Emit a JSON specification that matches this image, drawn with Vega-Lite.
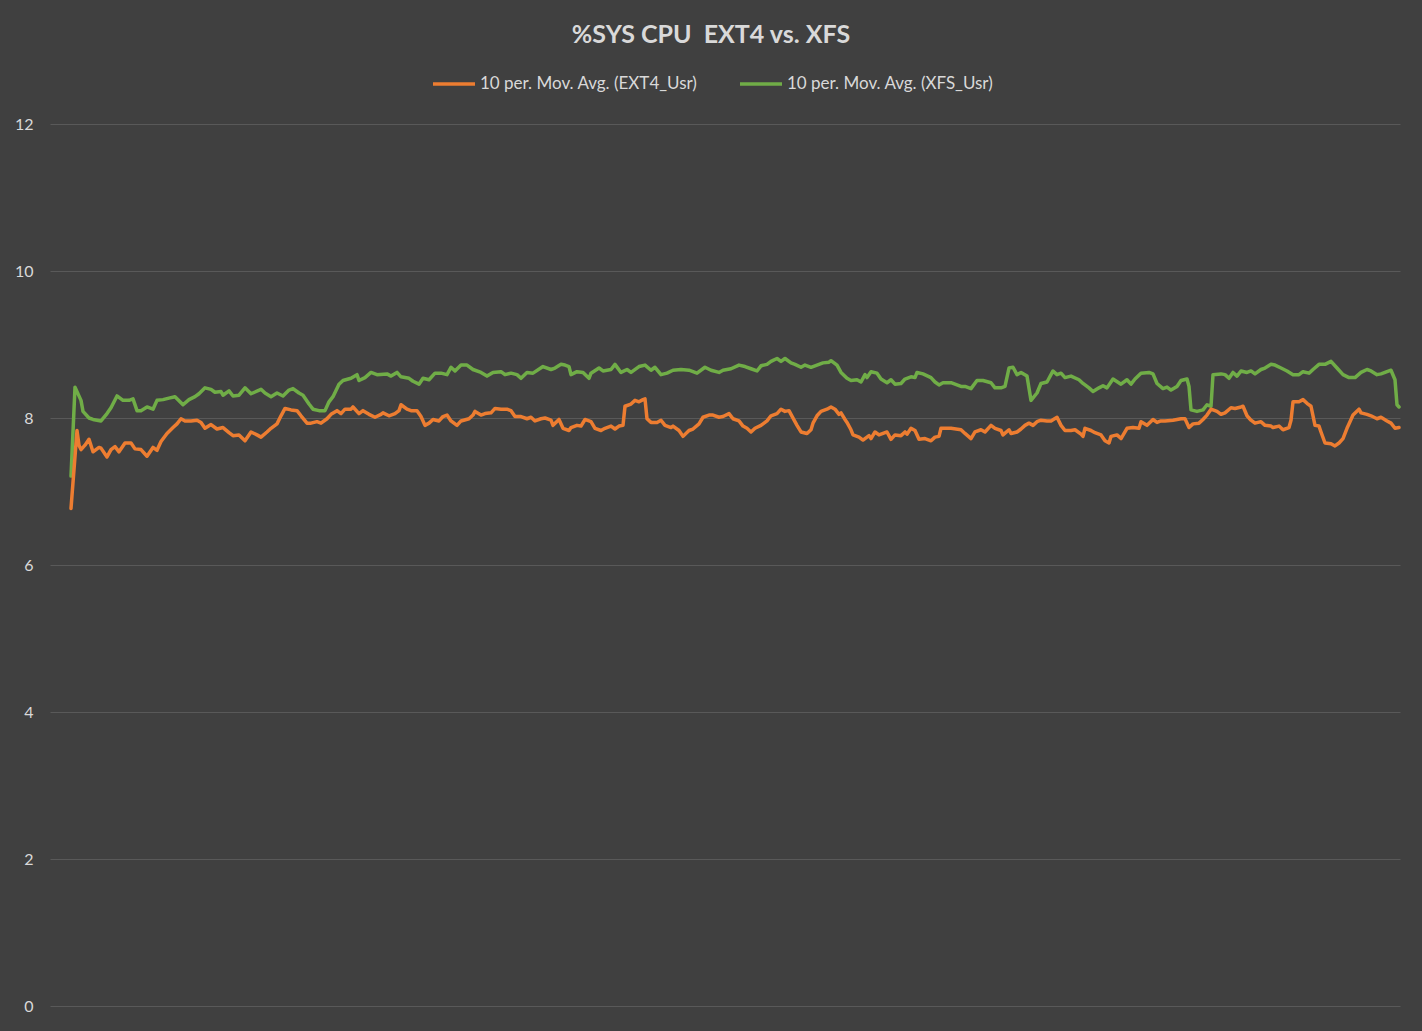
{
  "$schema": "https://vega.github.io/schema/vega-lite/v6.json",
  "width": 1350,
  "height": 882,
  "autosize": {"type": "none"},
  "padding": {"left": 50, "top": 124, "right": 22, "bottom": 25},
  "background": "#404040",
  "title": {
    "text": "%SYS CPU\u00a0 EXT4 vs. XFS",
    "color": "#d9d9d9",
    "font": "Lato",
    "fontSize": 25,
    "fontWeight": "bold",
    "anchor": "middle",
    "frame": "group",
    "dx": -14,
    "baseline": "alphabetic",
    "offset": -7
  },
  "config": {
    "view": {"stroke": null},
    "axis": {"labelFont": "Lato"},
    "legend": {"labelFont": "Lato"}
  },
  "data": {
    "values": [
      {"t": 0, "s": "XFS_Usr", "v": 7.21}, {"t": 2, "s": "XFS_Usr", "v": 8.42}, {"t": 5, "s": "XFS_Usr", "v": 8.24},
      {"t": 6, "s": "XFS_Usr", "v": 8.09}, {"t": 9, "s": "XFS_Usr", "v": 8.0}, {"t": 11, "s": "XFS_Usr", "v": 7.98},
      {"t": 15, "s": "XFS_Usr", "v": 7.96}, {"t": 18, "s": "XFS_Usr", "v": 8.06}, {"t": 20, "s": "XFS_Usr", "v": 8.14},
      {"t": 23, "s": "XFS_Usr", "v": 8.3}, {"t": 26, "s": "XFS_Usr", "v": 8.24}, {"t": 29, "s": "XFS_Usr", "v": 8.24},
      {"t": 31, "s": "XFS_Usr", "v": 8.26}, {"t": 33, "s": "XFS_Usr", "v": 8.1}, {"t": 35, "s": "XFS_Usr", "v": 8.1},
      {"t": 38, "s": "XFS_Usr", "v": 8.15}, {"t": 41, "s": "XFS_Usr", "v": 8.12}, {"t": 43, "s": "XFS_Usr", "v": 8.24},
      {"t": 46, "s": "XFS_Usr", "v": 8.25}, {"t": 49, "s": "XFS_Usr", "v": 8.27}, {"t": 52, "s": "XFS_Usr", "v": 8.29},
      {"t": 56, "s": "XFS_Usr", "v": 8.18}, {"t": 59, "s": "XFS_Usr", "v": 8.25}, {"t": 62, "s": "XFS_Usr", "v": 8.29},
      {"t": 64, "s": "XFS_Usr", "v": 8.33}, {"t": 67, "s": "XFS_Usr", "v": 8.41}, {"t": 70, "s": "XFS_Usr", "v": 8.39},
      {"t": 72, "s": "XFS_Usr", "v": 8.35}, {"t": 75, "s": "XFS_Usr", "v": 8.36}, {"t": 76, "s": "XFS_Usr", "v": 8.31},
      {"t": 79, "s": "XFS_Usr", "v": 8.37}, {"t": 81, "s": "XFS_Usr", "v": 8.3}, {"t": 84, "s": "XFS_Usr", "v": 8.31},
      {"t": 87, "s": "XFS_Usr", "v": 8.41}, {"t": 90, "s": "XFS_Usr", "v": 8.33}, {"t": 95, "s": "XFS_Usr", "v": 8.39},
      {"t": 97, "s": "XFS_Usr", "v": 8.34}, {"t": 100, "s": "XFS_Usr", "v": 8.29}, {"t": 103, "s": "XFS_Usr", "v": 8.34},
      {"t": 106, "s": "XFS_Usr", "v": 8.3}, {"t": 109, "s": "XFS_Usr", "v": 8.38}, {"t": 111, "s": "XFS_Usr", "v": 8.4},
      {"t": 114, "s": "XFS_Usr", "v": 8.34}, {"t": 116, "s": "XFS_Usr", "v": 8.31}, {"t": 119, "s": "XFS_Usr", "v": 8.19},
      {"t": 121, "s": "XFS_Usr", "v": 8.12}, {"t": 124, "s": "XFS_Usr", "v": 8.1}, {"t": 127, "s": "XFS_Usr", "v": 8.1},
      {"t": 129, "s": "XFS_Usr", "v": 8.22}, {"t": 131, "s": "XFS_Usr", "v": 8.29}, {"t": 134, "s": "XFS_Usr", "v": 8.46},
      {"t": 136, "s": "XFS_Usr", "v": 8.51}, {"t": 140, "s": "XFS_Usr", "v": 8.54}, {"t": 143, "s": "XFS_Usr", "v": 8.59},
      {"t": 144, "s": "XFS_Usr", "v": 8.51}, {"t": 147, "s": "XFS_Usr", "v": 8.55}, {"t": 150, "s": "XFS_Usr", "v": 8.62},
      {"t": 153, "s": "XFS_Usr", "v": 8.59}, {"t": 158, "s": "XFS_Usr", "v": 8.6}, {"t": 160, "s": "XFS_Usr", "v": 8.57},
      {"t": 163, "s": "XFS_Usr", "v": 8.62}, {"t": 165, "s": "XFS_Usr", "v": 8.56}, {"t": 169, "s": "XFS_Usr", "v": 8.54},
      {"t": 171, "s": "XFS_Usr", "v": 8.5}, {"t": 174, "s": "XFS_Usr", "v": 8.46}, {"t": 176, "s": "XFS_Usr", "v": 8.54},
      {"t": 179, "s": "XFS_Usr", "v": 8.52}, {"t": 182, "s": "XFS_Usr", "v": 8.61}, {"t": 185, "s": "XFS_Usr", "v": 8.61},
      {"t": 188, "s": "XFS_Usr", "v": 8.59}, {"t": 190, "s": "XFS_Usr", "v": 8.69}, {"t": 192, "s": "XFS_Usr", "v": 8.64},
      {"t": 195, "s": "XFS_Usr", "v": 8.72}, {"t": 198, "s": "XFS_Usr", "v": 8.72}, {"t": 201, "s": "XFS_Usr", "v": 8.66},
      {"t": 205, "s": "XFS_Usr", "v": 8.62}, {"t": 208, "s": "XFS_Usr", "v": 8.57}, {"t": 211, "s": "XFS_Usr", "v": 8.62},
      {"t": 215, "s": "XFS_Usr", "v": 8.63}, {"t": 217, "s": "XFS_Usr", "v": 8.59}, {"t": 220, "s": "XFS_Usr", "v": 8.61},
      {"t": 223, "s": "XFS_Usr", "v": 8.59}, {"t": 225, "s": "XFS_Usr", "v": 8.54}, {"t": 228, "s": "XFS_Usr", "v": 8.62},
      {"t": 231, "s": "XFS_Usr", "v": 8.61}, {"t": 236, "s": "XFS_Usr", "v": 8.7}, {"t": 240, "s": "XFS_Usr", "v": 8.66},
      {"t": 242, "s": "XFS_Usr", "v": 8.68}, {"t": 245, "s": "XFS_Usr", "v": 8.73}, {"t": 247, "s": "XFS_Usr", "v": 8.72},
      {"t": 249, "s": "XFS_Usr", "v": 8.7}, {"t": 250, "s": "XFS_Usr", "v": 8.59}, {"t": 253, "s": "XFS_Usr", "v": 8.63},
      {"t": 256, "s": "XFS_Usr", "v": 8.62}, {"t": 259, "s": "XFS_Usr", "v": 8.54}, {"t": 260, "s": "XFS_Usr", "v": 8.61},
      {"t": 264, "s": "XFS_Usr", "v": 8.68}, {"t": 266, "s": "XFS_Usr", "v": 8.64}, {"t": 270, "s": "XFS_Usr", "v": 8.66},
      {"t": 272, "s": "XFS_Usr", "v": 8.73}, {"t": 275, "s": "XFS_Usr", "v": 8.62}, {"t": 278, "s": "XFS_Usr", "v": 8.66},
      {"t": 280, "s": "XFS_Usr", "v": 8.62}, {"t": 284, "s": "XFS_Usr", "v": 8.7}, {"t": 287, "s": "XFS_Usr", "v": 8.72},
      {"t": 290, "s": "XFS_Usr", "v": 8.65}, {"t": 292, "s": "XFS_Usr", "v": 8.69}, {"t": 295, "s": "XFS_Usr", "v": 8.59},
      {"t": 298, "s": "XFS_Usr", "v": 8.61}, {"t": 301, "s": "XFS_Usr", "v": 8.65}, {"t": 305, "s": "XFS_Usr", "v": 8.66},
      {"t": 309, "s": "XFS_Usr", "v": 8.65}, {"t": 313, "s": "XFS_Usr", "v": 8.61}, {"t": 317, "s": "XFS_Usr", "v": 8.69},
      {"t": 320, "s": "XFS_Usr", "v": 8.65}, {"t": 324, "s": "XFS_Usr", "v": 8.62}, {"t": 326, "s": "XFS_Usr", "v": 8.65},
      {"t": 330, "s": "XFS_Usr", "v": 8.67}, {"t": 334, "s": "XFS_Usr", "v": 8.72}, {"t": 337, "s": "XFS_Usr", "v": 8.7},
      {"t": 340, "s": "XFS_Usr", "v": 8.67}, {"t": 343, "s": "XFS_Usr", "v": 8.64}, {"t": 345, "s": "XFS_Usr", "v": 8.71},
      {"t": 348, "s": "XFS_Usr", "v": 8.73}, {"t": 350, "s": "XFS_Usr", "v": 8.77}, {"t": 353, "s": "XFS_Usr", "v": 8.81},
      {"t": 355, "s": "XFS_Usr", "v": 8.77}, {"t": 357, "s": "XFS_Usr", "v": 8.81}, {"t": 360, "s": "XFS_Usr", "v": 8.75},
      {"t": 362, "s": "XFS_Usr", "v": 8.73}, {"t": 365, "s": "XFS_Usr", "v": 8.69}, {"t": 367, "s": "XFS_Usr", "v": 8.72},
      {"t": 370, "s": "XFS_Usr", "v": 8.69}, {"t": 373, "s": "XFS_Usr", "v": 8.72}, {"t": 376, "s": "XFS_Usr", "v": 8.75},
      {"t": 379, "s": "XFS_Usr", "v": 8.76}, {"t": 380, "s": "XFS_Usr", "v": 8.78}, {"t": 383, "s": "XFS_Usr", "v": 8.72},
      {"t": 385, "s": "XFS_Usr", "v": 8.62}, {"t": 388, "s": "XFS_Usr", "v": 8.54}, {"t": 390, "s": "XFS_Usr", "v": 8.51},
      {"t": 393, "s": "XFS_Usr", "v": 8.52}, {"t": 395, "s": "XFS_Usr", "v": 8.49}, {"t": 397, "s": "XFS_Usr", "v": 8.59},
      {"t": 398, "s": "XFS_Usr", "v": 8.55}, {"t": 400, "s": "XFS_Usr", "v": 8.63}, {"t": 403, "s": "XFS_Usr", "v": 8.61},
      {"t": 405, "s": "XFS_Usr", "v": 8.53}, {"t": 408, "s": "XFS_Usr", "v": 8.48}, {"t": 410, "s": "XFS_Usr", "v": 8.52},
      {"t": 412, "s": "XFS_Usr", "v": 8.46}, {"t": 415, "s": "XFS_Usr", "v": 8.47}, {"t": 417, "s": "XFS_Usr", "v": 8.53},
      {"t": 420, "s": "XFS_Usr", "v": 8.56}, {"t": 422, "s": "XFS_Usr", "v": 8.55}, {"t": 423, "s": "XFS_Usr", "v": 8.62},
      {"t": 426, "s": "XFS_Usr", "v": 8.6}, {"t": 430, "s": "XFS_Usr", "v": 8.55}, {"t": 432, "s": "XFS_Usr", "v": 8.49},
      {"t": 434, "s": "XFS_Usr", "v": 8.45}, {"t": 436, "s": "XFS_Usr", "v": 8.48}, {"t": 440, "s": "XFS_Usr", "v": 8.48},
      {"t": 442, "s": "XFS_Usr", "v": 8.46}, {"t": 445, "s": "XFS_Usr", "v": 8.43}, {"t": 447, "s": "XFS_Usr", "v": 8.43},
      {"t": 450, "s": "XFS_Usr", "v": 8.4}, {"t": 453, "s": "XFS_Usr", "v": 8.51}, {"t": 456, "s": "XFS_Usr", "v": 8.51},
      {"t": 460, "s": "XFS_Usr", "v": 8.48}, {"t": 462, "s": "XFS_Usr", "v": 8.41}, {"t": 465, "s": "XFS_Usr", "v": 8.41},
      {"t": 467, "s": "XFS_Usr", "v": 8.43}, {"t": 469, "s": "XFS_Usr", "v": 8.68}, {"t": 471, "s": "XFS_Usr", "v": 8.69},
      {"t": 473, "s": "XFS_Usr", "v": 8.59}, {"t": 475, "s": "XFS_Usr", "v": 8.62}, {"t": 478, "s": "XFS_Usr", "v": 8.57},
      {"t": 480, "s": "XFS_Usr", "v": 8.24}, {"t": 483, "s": "XFS_Usr", "v": 8.34}, {"t": 485, "s": "XFS_Usr", "v": 8.47},
      {"t": 488, "s": "XFS_Usr", "v": 8.49}, {"t": 491, "s": "XFS_Usr", "v": 8.64}, {"t": 493, "s": "XFS_Usr", "v": 8.59},
      {"t": 495, "s": "XFS_Usr", "v": 8.61}, {"t": 497, "s": "XFS_Usr", "v": 8.55}, {"t": 500, "s": "XFS_Usr", "v": 8.57},
      {"t": 504, "s": "XFS_Usr", "v": 8.52}, {"t": 506, "s": "XFS_Usr", "v": 8.47}, {"t": 509, "s": "XFS_Usr", "v": 8.41},
      {"t": 511, "s": "XFS_Usr", "v": 8.36}, {"t": 514, "s": "XFS_Usr", "v": 8.41}, {"t": 516, "s": "XFS_Usr", "v": 8.44},
      {"t": 518, "s": "XFS_Usr", "v": 8.41}, {"t": 521, "s": "XFS_Usr", "v": 8.53}, {"t": 525, "s": "XFS_Usr", "v": 8.46},
      {"t": 528, "s": "XFS_Usr", "v": 8.52}, {"t": 530, "s": "XFS_Usr", "v": 8.46}, {"t": 532, "s": "XFS_Usr", "v": 8.53},
      {"t": 535, "s": "XFS_Usr", "v": 8.61}, {"t": 539, "s": "XFS_Usr", "v": 8.62}, {"t": 541, "s": "XFS_Usr", "v": 8.6},
      {"t": 543, "s": "XFS_Usr", "v": 8.47}, {"t": 546, "s": "XFS_Usr", "v": 8.4}, {"t": 548, "s": "XFS_Usr", "v": 8.42},
      {"t": 550, "s": "XFS_Usr", "v": 8.38}, {"t": 553, "s": "XFS_Usr", "v": 8.43}, {"t": 555, "s": "XFS_Usr", "v": 8.51},
      {"t": 558, "s": "XFS_Usr", "v": 8.53}, {"t": 559, "s": "XFS_Usr", "v": 8.43}, {"t": 560, "s": "XFS_Usr", "v": 8.11},
      {"t": 563, "s": "XFS_Usr", "v": 8.09}, {"t": 566, "s": "XFS_Usr", "v": 8.11}, {"t": 568, "s": "XFS_Usr", "v": 8.18},
      {"t": 570, "s": "XFS_Usr", "v": 8.16}, {"t": 571, "s": "XFS_Usr", "v": 8.59}, {"t": 575, "s": "XFS_Usr", "v": 8.6},
      {"t": 577, "s": "XFS_Usr", "v": 8.59}, {"t": 579, "s": "XFS_Usr", "v": 8.54}, {"t": 581, "s": "XFS_Usr", "v": 8.62},
      {"t": 583, "s": "XFS_Usr", "v": 8.57}, {"t": 585, "s": "XFS_Usr", "v": 8.64}, {"t": 588, "s": "XFS_Usr", "v": 8.62},
      {"t": 590, "s": "XFS_Usr", "v": 8.64}, {"t": 592, "s": "XFS_Usr", "v": 8.6}, {"t": 595, "s": "XFS_Usr", "v": 8.66},
      {"t": 597, "s": "XFS_Usr", "v": 8.68}, {"t": 600, "s": "XFS_Usr", "v": 8.73}, {"t": 602, "s": "XFS_Usr", "v": 8.72},
      {"t": 605, "s": "XFS_Usr", "v": 8.68}, {"t": 608, "s": "XFS_Usr", "v": 8.64}, {"t": 611, "s": "XFS_Usr", "v": 8.59},
      {"t": 614, "s": "XFS_Usr", "v": 8.59}, {"t": 616, "s": "XFS_Usr", "v": 8.63}, {"t": 619, "s": "XFS_Usr", "v": 8.61},
      {"t": 621, "s": "XFS_Usr", "v": 8.66}, {"t": 624, "s": "XFS_Usr", "v": 8.73}, {"t": 627, "s": "XFS_Usr", "v": 8.73},
      {"t": 630, "s": "XFS_Usr", "v": 8.77}, {"t": 633, "s": "XFS_Usr", "v": 8.68}, {"t": 636, "s": "XFS_Usr", "v": 8.59},
      {"t": 639, "s": "XFS_Usr", "v": 8.55}, {"t": 642, "s": "XFS_Usr", "v": 8.55}, {"t": 645, "s": "XFS_Usr", "v": 8.62},
      {"t": 648, "s": "XFS_Usr", "v": 8.66}, {"t": 650, "s": "XFS_Usr", "v": 8.64}, {"t": 653, "s": "XFS_Usr", "v": 8.59},
      {"t": 655, "s": "XFS_Usr", "v": 8.6}, {"t": 657, "s": "XFS_Usr", "v": 8.62}, {"t": 660, "s": "XFS_Usr", "v": 8.65},
      {"t": 662, "s": "XFS_Usr", "v": 8.52}, {"t": 663, "s": "XFS_Usr", "v": 8.18}, {"t": 664, "s": "XFS_Usr", "v": 8.15},

      {"t": 0, "s": "EXT4_Usr", "v": 6.77}, {"t": 3, "s": "EXT4_Usr", "v": 7.83}, {"t": 4, "s": "EXT4_Usr", "v": 7.63},
      {"t": 5, "s": "EXT4_Usr", "v": 7.57}, {"t": 7, "s": "EXT4_Usr", "v": 7.63}, {"t": 9, "s": "EXT4_Usr", "v": 7.71},
      {"t": 11, "s": "EXT4_Usr", "v": 7.54}, {"t": 14, "s": "EXT4_Usr", "v": 7.6}, {"t": 15, "s": "EXT4_Usr", "v": 7.59},
      {"t": 18, "s": "EXT4_Usr", "v": 7.47}, {"t": 20, "s": "EXT4_Usr", "v": 7.57}, {"t": 22, "s": "EXT4_Usr", "v": 7.61},
      {"t": 24, "s": "EXT4_Usr", "v": 7.54}, {"t": 27, "s": "EXT4_Usr", "v": 7.66}, {"t": 30, "s": "EXT4_Usr", "v": 7.66},
      {"t": 32, "s": "EXT4_Usr", "v": 7.58}, {"t": 35, "s": "EXT4_Usr", "v": 7.57}, {"t": 38, "s": "EXT4_Usr", "v": 7.48},
      {"t": 41, "s": "EXT4_Usr", "v": 7.6}, {"t": 43, "s": "EXT4_Usr", "v": 7.56}, {"t": 45, "s": "EXT4_Usr", "v": 7.68},
      {"t": 48, "s": "EXT4_Usr", "v": 7.79}, {"t": 51, "s": "EXT4_Usr", "v": 7.87}, {"t": 53, "s": "EXT4_Usr", "v": 7.92},
      {"t": 55, "s": "EXT4_Usr", "v": 7.99}, {"t": 57, "s": "EXT4_Usr", "v": 7.96}, {"t": 60, "s": "EXT4_Usr", "v": 7.96},
      {"t": 63, "s": "EXT4_Usr", "v": 7.97}, {"t": 65, "s": "EXT4_Usr", "v": 7.94}, {"t": 67, "s": "EXT4_Usr", "v": 7.86},
      {"t": 70, "s": "EXT4_Usr", "v": 7.91}, {"t": 73, "s": "EXT4_Usr", "v": 7.85}, {"t": 76, "s": "EXT4_Usr", "v": 7.87},
      {"t": 79, "s": "EXT4_Usr", "v": 7.8}, {"t": 81, "s": "EXT4_Usr", "v": 7.76}, {"t": 84, "s": "EXT4_Usr", "v": 7.77},
      {"t": 87, "s": "EXT4_Usr", "v": 7.69}, {"t": 90, "s": "EXT4_Usr", "v": 7.81}, {"t": 93, "s": "EXT4_Usr", "v": 7.77},
      {"t": 95, "s": "EXT4_Usr", "v": 7.74}, {"t": 98, "s": "EXT4_Usr", "v": 7.81}, {"t": 100, "s": "EXT4_Usr", "v": 7.86},
      {"t": 103, "s": "EXT4_Usr", "v": 7.92}, {"t": 105, "s": "EXT4_Usr", "v": 8.03}, {"t": 107, "s": "EXT4_Usr", "v": 8.13},
      {"t": 110, "s": "EXT4_Usr", "v": 8.11}, {"t": 113, "s": "EXT4_Usr", "v": 8.1}, {"t": 115, "s": "EXT4_Usr", "v": 8.03},
      {"t": 118, "s": "EXT4_Usr", "v": 7.93}, {"t": 120, "s": "EXT4_Usr", "v": 7.93}, {"t": 123, "s": "EXT4_Usr", "v": 7.95},
      {"t": 125, "s": "EXT4_Usr", "v": 7.93}, {"t": 128, "s": "EXT4_Usr", "v": 7.99}, {"t": 130, "s": "EXT4_Usr", "v": 8.05},
      {"t": 133, "s": "EXT4_Usr", "v": 8.1}, {"t": 135, "s": "EXT4_Usr", "v": 8.06}, {"t": 137, "s": "EXT4_Usr", "v": 8.12},
      {"t": 140, "s": "EXT4_Usr", "v": 8.12}, {"t": 141, "s": "EXT4_Usr", "v": 8.15}, {"t": 144, "s": "EXT4_Usr", "v": 8.06},
      {"t": 146, "s": "EXT4_Usr", "v": 8.1}, {"t": 149, "s": "EXT4_Usr", "v": 8.05}, {"t": 152, "s": "EXT4_Usr", "v": 8.01},
      {"t": 155, "s": "EXT4_Usr", "v": 8.05}, {"t": 156, "s": "EXT4_Usr", "v": 8.07}, {"t": 159, "s": "EXT4_Usr", "v": 8.03},
      {"t": 162, "s": "EXT4_Usr", "v": 8.06}, {"t": 164, "s": "EXT4_Usr", "v": 8.1}, {"t": 165, "s": "EXT4_Usr", "v": 8.18},
      {"t": 168, "s": "EXT4_Usr", "v": 8.12}, {"t": 170, "s": "EXT4_Usr", "v": 8.1}, {"t": 173, "s": "EXT4_Usr", "v": 8.1},
      {"t": 175, "s": "EXT4_Usr", "v": 8.02}, {"t": 177, "s": "EXT4_Usr", "v": 7.9}, {"t": 179, "s": "EXT4_Usr", "v": 7.93},
      {"t": 181, "s": "EXT4_Usr", "v": 7.98}, {"t": 184, "s": "EXT4_Usr", "v": 7.96}, {"t": 186, "s": "EXT4_Usr", "v": 8.02},
      {"t": 188, "s": "EXT4_Usr", "v": 8.04}, {"t": 190, "s": "EXT4_Usr", "v": 7.96}, {"t": 193, "s": "EXT4_Usr", "v": 7.9},
      {"t": 195, "s": "EXT4_Usr", "v": 7.96}, {"t": 199, "s": "EXT4_Usr", "v": 7.99}, {"t": 201, "s": "EXT4_Usr", "v": 8.04},
      {"t": 202, "s": "EXT4_Usr", "v": 8.09}, {"t": 205, "s": "EXT4_Usr", "v": 8.04}, {"t": 207, "s": "EXT4_Usr", "v": 8.06},
      {"t": 210, "s": "EXT4_Usr", "v": 8.07}, {"t": 212, "s": "EXT4_Usr", "v": 8.13}, {"t": 215, "s": "EXT4_Usr", "v": 8.12},
      {"t": 218, "s": "EXT4_Usr", "v": 8.12}, {"t": 220, "s": "EXT4_Usr", "v": 8.1}, {"t": 222, "s": "EXT4_Usr", "v": 8.02},
      {"t": 225, "s": "EXT4_Usr", "v": 8.02}, {"t": 228, "s": "EXT4_Usr", "v": 7.99}, {"t": 230, "s": "EXT4_Usr", "v": 8.01},
      {"t": 232, "s": "EXT4_Usr", "v": 7.96}, {"t": 235, "s": "EXT4_Usr", "v": 7.99}, {"t": 237, "s": "EXT4_Usr", "v": 8.0},
      {"t": 240, "s": "EXT4_Usr", "v": 7.97}, {"t": 241, "s": "EXT4_Usr", "v": 7.9}, {"t": 244, "s": "EXT4_Usr", "v": 7.98},
      {"t": 246, "s": "EXT4_Usr", "v": 7.86}, {"t": 249, "s": "EXT4_Usr", "v": 7.83}, {"t": 250, "s": "EXT4_Usr", "v": 7.87},
      {"t": 253, "s": "EXT4_Usr", "v": 7.9}, {"t": 255, "s": "EXT4_Usr", "v": 7.89}, {"t": 257, "s": "EXT4_Usr", "v": 7.98},
      {"t": 260, "s": "EXT4_Usr", "v": 7.95}, {"t": 262, "s": "EXT4_Usr", "v": 7.86}, {"t": 265, "s": "EXT4_Usr", "v": 7.83},
      {"t": 267, "s": "EXT4_Usr", "v": 7.86}, {"t": 270, "s": "EXT4_Usr", "v": 7.89}, {"t": 272, "s": "EXT4_Usr", "v": 7.85},
      {"t": 274, "s": "EXT4_Usr", "v": 7.89}, {"t": 276, "s": "EXT4_Usr", "v": 7.9}, {"t": 277, "s": "EXT4_Usr", "v": 8.16},
      {"t": 280, "s": "EXT4_Usr", "v": 8.19}, {"t": 282, "s": "EXT4_Usr", "v": 8.24}, {"t": 284, "s": "EXT4_Usr", "v": 8.22},
      {"t": 286, "s": "EXT4_Usr", "v": 8.25}, {"t": 287, "s": "EXT4_Usr", "v": 8.26}, {"t": 288, "s": "EXT4_Usr", "v": 7.99},
      {"t": 290, "s": "EXT4_Usr", "v": 7.94}, {"t": 293, "s": "EXT4_Usr", "v": 7.94}, {"t": 295, "s": "EXT4_Usr", "v": 7.97},
      {"t": 297, "s": "EXT4_Usr", "v": 7.9}, {"t": 300, "s": "EXT4_Usr", "v": 7.87}, {"t": 301, "s": "EXT4_Usr", "v": 7.89},
      {"t": 304, "s": "EXT4_Usr", "v": 7.83}, {"t": 306, "s": "EXT4_Usr", "v": 7.75}, {"t": 309, "s": "EXT4_Usr", "v": 7.83},
      {"t": 311, "s": "EXT4_Usr", "v": 7.85}, {"t": 314, "s": "EXT4_Usr", "v": 7.92}, {"t": 316, "s": "EXT4_Usr", "v": 8.01},
      {"t": 319, "s": "EXT4_Usr", "v": 8.04}, {"t": 321, "s": "EXT4_Usr", "v": 8.04}, {"t": 324, "s": "EXT4_Usr", "v": 8.01},
      {"t": 326, "s": "EXT4_Usr", "v": 8.02}, {"t": 329, "s": "EXT4_Usr", "v": 8.06}, {"t": 331, "s": "EXT4_Usr", "v": 7.99},
      {"t": 334, "s": "EXT4_Usr", "v": 7.96}, {"t": 336, "s": "EXT4_Usr", "v": 7.89}, {"t": 338, "s": "EXT4_Usr", "v": 7.86},
      {"t": 340, "s": "EXT4_Usr", "v": 7.81}, {"t": 342, "s": "EXT4_Usr", "v": 7.86}, {"t": 345, "s": "EXT4_Usr", "v": 7.9},
      {"t": 348, "s": "EXT4_Usr", "v": 7.96}, {"t": 350, "s": "EXT4_Usr", "v": 8.03}, {"t": 353, "s": "EXT4_Usr", "v": 8.06},
      {"t": 355, "s": "EXT4_Usr", "v": 8.12}, {"t": 357, "s": "EXT4_Usr", "v": 8.09}, {"t": 359, "s": "EXT4_Usr", "v": 8.1},
      {"t": 360, "s": "EXT4_Usr", "v": 8.05}, {"t": 363, "s": "EXT4_Usr", "v": 7.9}, {"t": 365, "s": "EXT4_Usr", "v": 7.81},
      {"t": 368, "s": "EXT4_Usr", "v": 7.79}, {"t": 370, "s": "EXT4_Usr", "v": 7.84}, {"t": 371, "s": "EXT4_Usr", "v": 7.93},
      {"t": 373, "s": "EXT4_Usr", "v": 8.03}, {"t": 375, "s": "EXT4_Usr", "v": 8.09}, {"t": 378, "s": "EXT4_Usr", "v": 8.12},
      {"t": 380, "s": "EXT4_Usr", "v": 8.15}, {"t": 382, "s": "EXT4_Usr", "v": 8.12}, {"t": 384, "s": "EXT4_Usr", "v": 8.05},
      {"t": 385, "s": "EXT4_Usr", "v": 8.07}, {"t": 387, "s": "EXT4_Usr", "v": 7.98}, {"t": 388, "s": "EXT4_Usr", "v": 7.94},
      {"t": 390, "s": "EXT4_Usr", "v": 7.84}, {"t": 391, "s": "EXT4_Usr", "v": 7.77}, {"t": 394, "s": "EXT4_Usr", "v": 7.74},
      {"t": 396, "s": "EXT4_Usr", "v": 7.7}, {"t": 399, "s": "EXT4_Usr", "v": 7.76}, {"t": 400, "s": "EXT4_Usr", "v": 7.72},
      {"t": 402, "s": "EXT4_Usr", "v": 7.81}, {"t": 404, "s": "EXT4_Usr", "v": 7.77}, {"t": 406, "s": "EXT4_Usr", "v": 7.79},
      {"t": 408, "s": "EXT4_Usr", "v": 7.81}, {"t": 410, "s": "EXT4_Usr", "v": 7.71}, {"t": 412, "s": "EXT4_Usr", "v": 7.77},
      {"t": 415, "s": "EXT4_Usr", "v": 7.76}, {"t": 417, "s": "EXT4_Usr", "v": 7.81}, {"t": 418, "s": "EXT4_Usr", "v": 7.78},
      {"t": 420, "s": "EXT4_Usr", "v": 7.86}, {"t": 422, "s": "EXT4_Usr", "v": 7.83}, {"t": 424, "s": "EXT4_Usr", "v": 7.71},
      {"t": 427, "s": "EXT4_Usr", "v": 7.72}, {"t": 430, "s": "EXT4_Usr", "v": 7.69}, {"t": 432, "s": "EXT4_Usr", "v": 7.74},
      {"t": 434, "s": "EXT4_Usr", "v": 7.75}, {"t": 435, "s": "EXT4_Usr", "v": 7.86}, {"t": 440, "s": "EXT4_Usr", "v": 7.86},
      {"t": 445, "s": "EXT4_Usr", "v": 7.84}, {"t": 447, "s": "EXT4_Usr", "v": 7.79}, {"t": 450, "s": "EXT4_Usr", "v": 7.72},
      {"t": 452, "s": "EXT4_Usr", "v": 7.81}, {"t": 455, "s": "EXT4_Usr", "v": 7.84}, {"t": 457, "s": "EXT4_Usr", "v": 7.81},
      {"t": 460, "s": "EXT4_Usr", "v": 7.9}, {"t": 462, "s": "EXT4_Usr", "v": 7.86}, {"t": 465, "s": "EXT4_Usr", "v": 7.83},
      {"t": 466, "s": "EXT4_Usr", "v": 7.77}, {"t": 469, "s": "EXT4_Usr", "v": 7.84}, {"t": 470, "s": "EXT4_Usr", "v": 7.79},
      {"t": 473, "s": "EXT4_Usr", "v": 7.81}, {"t": 475, "s": "EXT4_Usr", "v": 7.85}, {"t": 477, "s": "EXT4_Usr", "v": 7.9},
      {"t": 479, "s": "EXT4_Usr", "v": 7.93}, {"t": 481, "s": "EXT4_Usr", "v": 7.9}, {"t": 483, "s": "EXT4_Usr", "v": 7.95},
      {"t": 485, "s": "EXT4_Usr", "v": 7.97}, {"t": 488, "s": "EXT4_Usr", "v": 7.96}, {"t": 490, "s": "EXT4_Usr", "v": 7.96},
      {"t": 493, "s": "EXT4_Usr", "v": 8.01}, {"t": 495, "s": "EXT4_Usr", "v": 7.9}, {"t": 497, "s": "EXT4_Usr", "v": 7.83},
      {"t": 500, "s": "EXT4_Usr", "v": 7.83}, {"t": 502, "s": "EXT4_Usr", "v": 7.84}, {"t": 505, "s": "EXT4_Usr", "v": 7.78},
      {"t": 506, "s": "EXT4_Usr", "v": 7.75}, {"t": 507, "s": "EXT4_Usr", "v": 7.86}, {"t": 510, "s": "EXT4_Usr", "v": 7.83},
      {"t": 512, "s": "EXT4_Usr", "v": 7.8}, {"t": 515, "s": "EXT4_Usr", "v": 7.77}, {"t": 517, "s": "EXT4_Usr", "v": 7.69},
      {"t": 519, "s": "EXT4_Usr", "v": 7.66}, {"t": 520, "s": "EXT4_Usr", "v": 7.75}, {"t": 523, "s": "EXT4_Usr", "v": 7.77},
      {"t": 525, "s": "EXT4_Usr", "v": 7.72}, {"t": 528, "s": "EXT4_Usr", "v": 7.86}, {"t": 531, "s": "EXT4_Usr", "v": 7.87},
      {"t": 534, "s": "EXT4_Usr", "v": 7.86}, {"t": 535, "s": "EXT4_Usr", "v": 7.95}, {"t": 538, "s": "EXT4_Usr", "v": 7.9},
      {"t": 541, "s": "EXT4_Usr", "v": 7.98}, {"t": 543, "s": "EXT4_Usr", "v": 7.94}, {"t": 545, "s": "EXT4_Usr", "v": 7.96},
      {"t": 547, "s": "EXT4_Usr", "v": 7.96}, {"t": 551, "s": "EXT4_Usr", "v": 7.97}, {"t": 555, "s": "EXT4_Usr", "v": 7.99},
      {"t": 557, "s": "EXT4_Usr", "v": 7.99}, {"t": 559, "s": "EXT4_Usr", "v": 7.87}, {"t": 561, "s": "EXT4_Usr", "v": 7.92},
      {"t": 564, "s": "EXT4_Usr", "v": 7.93}, {"t": 566, "s": "EXT4_Usr", "v": 7.98}, {"t": 568, "s": "EXT4_Usr", "v": 8.04},
      {"t": 570, "s": "EXT4_Usr", "v": 8.12}, {"t": 573, "s": "EXT4_Usr", "v": 8.09}, {"t": 575, "s": "EXT4_Usr", "v": 8.05},
      {"t": 577, "s": "EXT4_Usr", "v": 8.07}, {"t": 580, "s": "EXT4_Usr", "v": 8.14}, {"t": 582, "s": "EXT4_Usr", "v": 8.13},
      {"t": 585, "s": "EXT4_Usr", "v": 8.15}, {"t": 586, "s": "EXT4_Usr", "v": 8.16}, {"t": 588, "s": "EXT4_Usr", "v": 8.03},
      {"t": 590, "s": "EXT4_Usr", "v": 7.97}, {"t": 592, "s": "EXT4_Usr", "v": 7.93}, {"t": 595, "s": "EXT4_Usr", "v": 7.95},
      {"t": 597, "s": "EXT4_Usr", "v": 7.9}, {"t": 600, "s": "EXT4_Usr", "v": 7.89}, {"t": 601, "s": "EXT4_Usr", "v": 7.87},
      {"t": 604, "s": "EXT4_Usr", "v": 7.89}, {"t": 606, "s": "EXT4_Usr", "v": 7.84}, {"t": 609, "s": "EXT4_Usr", "v": 7.87},
      {"t": 610, "s": "EXT4_Usr", "v": 7.97}, {"t": 611, "s": "EXT4_Usr", "v": 8.22}, {"t": 614, "s": "EXT4_Usr", "v": 8.22},
      {"t": 616, "s": "EXT4_Usr", "v": 8.25}, {"t": 618, "s": "EXT4_Usr", "v": 8.2}, {"t": 620, "s": "EXT4_Usr", "v": 8.16},
      {"t": 622, "s": "EXT4_Usr", "v": 7.9}, {"t": 624, "s": "EXT4_Usr", "v": 7.89}, {"t": 625, "s": "EXT4_Usr", "v": 7.81},
      {"t": 627, "s": "EXT4_Usr", "v": 7.66}, {"t": 630, "s": "EXT4_Usr", "v": 7.65}, {"t": 632, "s": "EXT4_Usr", "v": 7.62},
      {"t": 634, "s": "EXT4_Usr", "v": 7.66}, {"t": 636, "s": "EXT4_Usr", "v": 7.72}, {"t": 638, "s": "EXT4_Usr", "v": 7.86},
      {"t": 640, "s": "EXT4_Usr", "v": 7.98}, {"t": 641, "s": "EXT4_Usr", "v": 8.04}, {"t": 644, "s": "EXT4_Usr", "v": 8.12},
      {"t": 645, "s": "EXT4_Usr", "v": 8.07}, {"t": 648, "s": "EXT4_Usr", "v": 8.05}, {"t": 650, "s": "EXT4_Usr", "v": 8.03},
      {"t": 653, "s": "EXT4_Usr", "v": 7.99}, {"t": 655, "s": "EXT4_Usr", "v": 8.01}, {"t": 658, "s": "EXT4_Usr", "v": 7.96},
      {"t": 660, "s": "EXT4_Usr", "v": 7.93}, {"t": 662, "s": "EXT4_Usr", "v": 7.86}, {"t": 664, "s": "EXT4_Usr", "v": 7.87}
    ]
  },
  "mark": {"type": "line", "strokeWidth": 3.5, "strokeJoin": "round", "strokeCap": "round"},
  "encoding": {
    "x": {
      "field": "t",
      "type": "quantitative",
      "scale": {"domain": [-10.5, 664.5], "nice": false, "zero": false},
      "axis": null
    },
    "y": {
      "field": "v",
      "type": "quantitative",
      "scale": {"domain": [0, 12], "nice": false},
      "axis": {
        "title": null,
        "values": [0, 2, 4, 6, 8, 10, 12],
        "grid": true,
        "gridColor": "#595959",
        "gridWidth": 1,
        "domain": false,
        "ticks": false,
        "labelColor": "#d9d9d9",
        "labelFontSize": 16,
        "labelPadding": 17
      }
    },
    "color": {
      "field": "s",
      "type": "nominal",
      "scale": {"domain": ["EXT4_Usr", "XFS_Usr"], "range": ["#ED7D31", "#70AD47"]},
      "legend": {
        "title": null,
        "orient": "none",
        "legendX": 381,
        "legendY": -63,
        "direction": "horizontal",
        "symbolType": "stroke",
        "symbolSize": 1764,
        "symbolStrokeWidth": 3.5,
        "labelExpr": "'10 per. Mov. Avg. (' + datum.label + ')'",
        "labelColor": "#d9d9d9",
        "labelFontSize": 17,
        "labelOffset": 3,
        "columnPadding": 35,
        "labelLimit": 400
      }
    }
  }
}
